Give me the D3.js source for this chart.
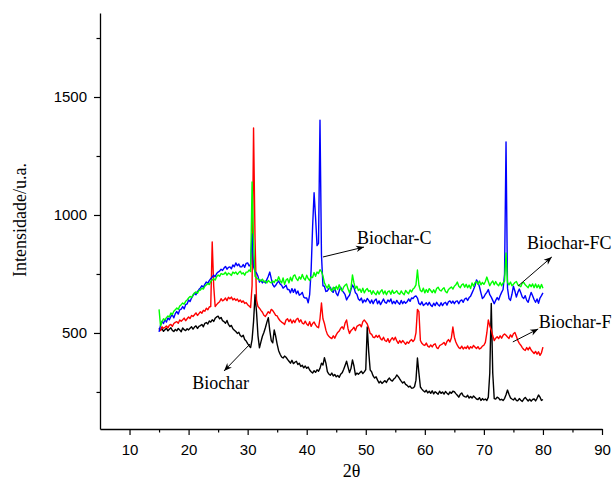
<!DOCTYPE html>
<html>
<head>
<meta charset="utf-8">
<script src="https://cdn.jsdelivr.net/npm/d3@7"></script>
<style>
  html, body { margin: 0; padding: 0; background: #fff; }
  svg { display: block; }
</style>
</head>
<body>
<svg id="chart" width="615" height="486"></svg>
<script>
// XRD patterns, 2θ from 15° to 80° in 0.25° steps
const angles = d3.range(0, 261).map(i => 15 + i * 0.25);

const biochar = [
  521,512,518,507,514,520,509,516,522,511,506,515,509,519,513,505,521,514,510,518,
  513,520,526,516,525,530,519,528,531,536,526,541,544,538,551,546,556,549,562,568,
  571,560,566,552,548,541,553,536,527,532,518,512,506,498,503,489,484,490,472,466,
  455,446,438,472,548,662,590,488,437,462,486,502,522,545,565,510,468,458,513,486,
  452,425,410,398,394,402,397,388,380,372,384,370,376,380,366,372,358,363,352,360,
  350,356,343,336,330,340,333,344,338,350,372,364,395,372,336,326,321,330,318,324,
  314,320,312,325,331,345,362,380,355,332,350,386,360,322,330,325,331,338,328,335,
  345,525,420,343,335,318,309,314,300,288,295,286,292,298,290,302,309,300,296,305,
  310,322,315,305,296,288,293,282,278,271,275,266,267,272,300,394,330,271,262,255,
  250,257,246,253,244,255,242,251,246,240,253,244,250,241,252,245,239,250,244,253,
  251,243,236,228,240,246,234,230,228,236,224,231,224,233,227,220,218,226,214,222,
  216,220,214,228,330,625,330,222,220,228,224,216,219,214,222,238,258,240,225,220,
  216,224,214,213,222,215,210,220,227,219,212,219,211,218,221,212,223,237,228,214,
  218
];

const biocharF = [
  518,510,526,520,524,530,521,533,536,528,540,545,548,541,555,550,556,563,552,560,
  568,561,574,570,577,585,574,582,590,584,596,592,605,598,610,612,886,700,612,620,
  627,632,645,636,640,648,637,651,645,652,640,646,638,644,633,640,630,636,625,629,
  620,614,608,700,1369,900,640,612,605,596,588,575,570,580,590,584,600,595,585,575,
  572,560,552,546,542,536,555,560,548,558,542,554,544,558,562,546,556,542,538,550,
  538,532,548,528,540,546,534,526,522,560,627,560,540,512,494,486,480,476,488,478,
  492,502,508,520,526,516,542,555,518,498,510,516,524,510,528,532,536,526,548,555,
  547,538,520,498,494,482,480,490,482,490,476,470,482,468,464,476,460,472,480,470,
  482,466,456,468,458,468,460,452,462,456,466,472,464,472,500,600,590,468,456,450,
  447,457,444,440,449,441,451,454,438,434,446,450,454,460,448,464,472,462,480,525,
  482,462,448,438,434,444,432,440,434,445,432,442,436,447,440,434,442,432,436,444,
  448,460,500,555,530,513,488,468,478,484,476,488,478,490,496,490,483,477,492,482,
  497,502,486,468,456,448,438,430,426,438,428,440,428,420,413,422,410,420,405,416,
  440
];

const biocharC = [
  505,532,550,540,557,546,564,556,570,577,564,582,591,580,598,601,612,602,620,623,
  640,633,648,658,669,662,675,684,691,700,694,706,716,710,722,730,737,745,738,752,
  758,762,770,765,775,782,770,778,780,772,788,781,797,785,792,780,780,790,778,795,
  797,784,790,920,780,760,754,740,716,724,712,720,712,726,740,758,730,705,695,702,
  712,720,708,702,690,696,702,684,684,670,688,672,686,666,678,660,664,672,652,648,
  648,628,662,767,950,1094,990,870,880,1402,830,700,698,676,678,688,694,678,672,692,
  668,658,678,694,680,672,662,640,652,660,684,703,692,670,664,644,638,648,628,640,
  632,646,638,626,640,624,638,644,624,636,620,632,644,630,626,640,632,644,624,634,
  624,638,628,622,638,624,634,626,632,644,634,648,646,654,657,648,625,620,632,616,
  622,628,618,630,618,612,626,616,630,620,614,628,616,626,630,618,632,636,626,635,
  624,634,636,624,636,640,630,644,648,638,650,656,670,684,700,725,714,696,670,646,
  652,664,672,684,662,652,638,624,638,650,640,658,672,684,750,1310,690,646,638,664,
  698,678,652,672,686,670,652,646,658,638,630,652,672,658,642,630,644,626,648,658,
  670
];

const biocharFC = [
  600,530,548,560,555,565,572,568,585,578,592,598,606,600,614,620,627,622,634,640,
  648,655,650,662,669,674,668,680,682,690,686,698,703,710,705,718,725,730,724,738,
  746,740,752,748,750,757,745,754,750,744,758,752,758,748,756,762,750,755,745,758,
  758,767,760,1140,890,740,733,728,725,720,728,716,720,712,722,716,712,720,714,726,
  720,738,722,712,733,706,724,730,712,736,720,742,746,730,722,738,728,748,732,724,
  745,730,722,738,735,756,740,758,752,768,760,742,712,700,690,705,684,678,694,682,
  698,684,704,688,678,694,702,708,686,670,692,746,712,688,698,680,686,672,690,670,
  682,688,676,680,664,679,668,662,678,664,676,683,665,678,662,675,678,664,681,668,
  672,679,668,664,678,668,662,680,672,666,682,674,686,692,704,767,702,680,675,690,
  670,684,672,688,680,671,683,670,688,694,682,678,686,692,676,670,684,690,695,686,
  698,704,716,698,692,704,708,694,706,692,703,688,712,698,714,718,706,720,704,714,
  706,718,737,718,700,712,720,704,718,706,700,714,700,712,720,839,715,704,716,700,
  706,714,718,704,700,696,712,714,704,698,692,706,696,708,692,708,692,704,688,706,
  690
];

const seriesNames = ["Biochar", "Biochar-F", "Biochar-C", "Biochar-FC"];
const seriesColors = ["#000000", "#ff0000", "#0000ff", "#00ff00"];
const seriesValues = [biochar, biocharF, biocharC, biocharFC];

const xMajorTicks = [10, 20, 30, 40, 50, 60, 70, 80, 90];
const xMinorTicks = [15, 25, 35, 45, 55, 65, 75, 85];
const yMajorTicks = [500, 1000, 1500];
const yMinorTicks = [250, 750, 1250, 1750];

// Callout labels with their arrows, in data units (2θ, intensity)
const labelText = ["Biochar", "Biochar-C", "Biochar-FC", "Biochar-F"];
const labelPos = [[20.6, 263], [48.5, 877], [77.3, 856], [79.3, 521]];
const arrowFrom = [[30.4, 453], [42.76, 822], [75.8, 699], [74.9, 462]];
const arrowTo = [[26.0, 339], [49.7, 864], [81.5, 822], [79.2, 517]];

const svg = d3.select("#chart");
const x = d3.scaleLinear().domain([5, 90]).range([100, 602]);
const y = d3.scaleLinear().domain([93, 1856]).range([429, 13]);

// Curves
const line = d3.line()
  .x((d, i) => x(angles[i]))
  .y(d => y(d));

seriesValues.forEach((vals, k) => {
  svg.append("path")
    .datum(vals)
    .attr("fill", "none")
    .attr("stroke", seriesColors[k])
    .attr("stroke-width", 1.4)
    .attr("stroke-linejoin", "round")
    .attr("d", line);
});

// Axes
const axisFont = "'Liberation Sans', Arial, sans-serif";
const fmt = d3.format("d");

const xAxis = svg.append("g").attr("transform", "translate(0,429)")
  .call(d3.axisBottom(x).tickValues(xMajorTicks).tickFormat(fmt).tickSize(6).tickPadding(9).tickSizeOuter(0));
const xMinor = svg.append("g").attr("transform", "translate(0,429)")
  .call(d3.axisBottom(x).tickValues(xMinorTicks).tickSize(3.5).tickFormat("").tickSizeOuter(0));
const yAxis = svg.append("g").attr("transform", "translate(100,0)")
  .call(d3.axisLeft(y).tickValues(yMajorTicks).tickFormat(fmt).tickSize(6).tickPadding(7).tickSizeOuter(0));
const yMinor = svg.append("g").attr("transform", "translate(100,0)")
  .call(d3.axisLeft(y).tickValues(yMinorTicks).tickSize(3.5).tickFormat("").tickSizeOuter(0));

[xAxis, xMinor, yAxis, yMinor].forEach(g => {
  g.selectAll("path.domain").attr("stroke", "#000").attr("stroke-width", 1.3);
  g.selectAll(".tick line").attr("stroke", "#000").attr("stroke-width", 1.2);
  g.selectAll(".tick text")
    .attr("fill", "#000")
    .style("font-family", axisFont)
    .style("font-size", "15px");
});
xMinor.select("path.domain").remove();
yMinor.select("path.domain").remove();

// Axis titles
const serif = "'Liberation Serif', 'Times New Roman', serif";
svg.append("text")
  .attr("x", 351.5).attr("y", 477)
  .attr("text-anchor", "middle")
  .style("font-family", serif).style("font-size", "18px")
  .text("2θ");

svg.append("text")
  .attr("transform", "translate(26,220) rotate(-90)")
  .attr("text-anchor", "middle")
  .style("font-family", serif).style("font-size", "18px")
  .text("Intensidade/u.a.");

// Arrowhead
svg.append("defs").append("marker")
  .attr("id", "head")
  .attr("viewBox", "0 0 10 10")
  .attr("refX", 10).attr("refY", 5)
  .attr("markerWidth", 10).attr("markerHeight", 8)
  .attr("markerUnits", "userSpaceOnUse")
  .attr("orient", "auto")
  .append("path")
  .attr("d", "M0,1 L10,5 L0,9 L3,5 Z")
  .attr("fill", "#000");

labelText.forEach((t, k) => {
  svg.append("line")
    .attr("x1", x(arrowFrom[k][0])).attr("y1", y(arrowFrom[k][1]))
    .attr("x2", x(arrowTo[k][0])).attr("y2", y(arrowTo[k][1]))
    .attr("stroke", "#000").attr("stroke-width", 1)
    .attr("marker-end", "url(#head)");
  svg.append("text")
    .attr("x", x(labelPos[k][0])).attr("y", y(labelPos[k][1]))
    .style("font-family", serif).style("font-size", "18px")
    .text(t);
});
</script>
</body>
</html>
